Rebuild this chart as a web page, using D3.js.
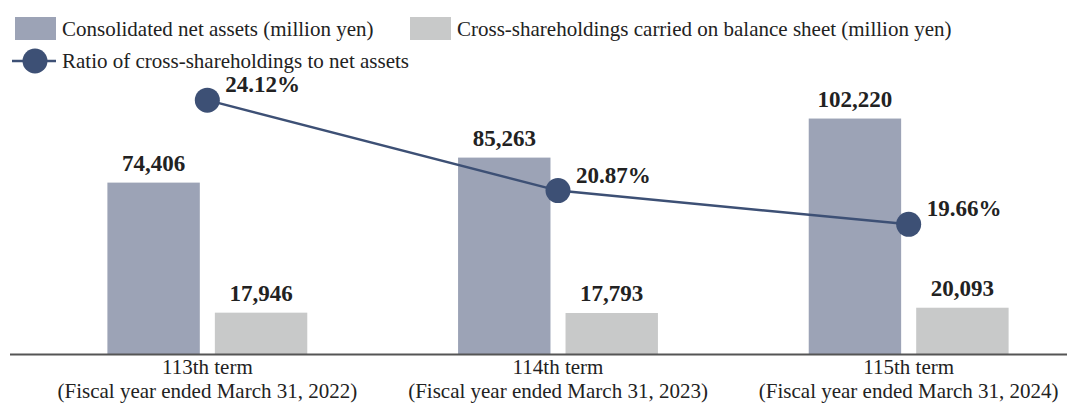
<!DOCTYPE html>
<html>
<head>
<meta charset="utf-8">
<script src="https://cdn.jsdelivr.net/npm/d3@7"></script>
<style>
  body { margin: 0; background: #fff; }
  text { font-family: 'Liberation Serif', 'Times New Roman', serif; fill: #222; }
</style>
</head>
<body>
<div id="graph"></div>
<script>
const w = 1067;
const h = 405;

// data
const terms = ['113th term', '114th term', '115th term'];
const periods = ['(Fiscal year ended March 31, 2022)',
                 '(Fiscal year ended March 31, 2023)',
                 '(Fiscal year ended March 31, 2024)'];
const netAssets = [74406, 85263, 102220];
const crossHoldings = [17946, 17793, 20093];
const ratio = [24.12, 20.87, 19.66];
const seriesNames = ['Consolidated net assets (million yen)',
                     'Cross-shareholdings carried on balance sheet (million yen)',
                     'Ratio of cross-shareholdings to net assets'];

const navyBar = '#9ca3b6';
const grayBar = '#c8c9c9';
const lineCol = '#3d5075';

const baseY = 354;
const topY = 20;

const svg = d3.select('#graph')
              .append('svg')
              .attr('width', w)
              .attr('height', h);

const x0 = d3.scaleBand()
             .domain(terms)
             .range([32, 1084])
             .paddingInner(0.43)
             .paddingOuter(0.215);

const x1 = d3.scaleBand()
             .domain(['net', 'cross'])
             .range([0, x0.bandwidth()])
             .paddingInner(0.14);

const yBar = d3.scaleLinear()
               .domain([0, 145000])
               .range([baseY, topY]);

const yRatio = d3.scaleLinear()
                 .domain([15, 27])
                 .range([baseY, topY]);

const fmt = d3.format(',');

const rows = terms.map((t, i) => ({
  term: t,
  bars: [{key: 'net', v: netAssets[i], c: navyBar},
         {key: 'cross', v: crossHoldings[i], c: grayBar}]
}));

const groups = svg.selectAll('g.grp')
                  .data(rows)
                  .enter()
                  .append('g')
                  .attr('class', 'grp')
                  .attr('transform', d => 'translate(' + x0(d.term) + ',0)');

groups.selectAll('rect')
      .data(d => d.bars)
      .enter()
      .append('rect')
      .attr('x', d => x1(d.key))
      .attr('y', d => yBar(d.v))
      .attr('width', x1.bandwidth())
      .attr('height', d => baseY - yBar(d.v))
      .attr('fill', d => d.c);

groups.selectAll('text.val')
      .data(d => d.bars)
      .enter()
      .append('text')
      .attr('class', 'val')
      .attr('x', d => x1(d.key) + x1.bandwidth() / 2)
      .attr('y', d => yBar(d.v) - 12)
      .attr('text-anchor', 'middle')
      .style('font-size', '23px')
      .style('font-weight', 'bold')
      .text(d => fmt(d.v));

// baseline
svg.append('line')
   .attr('x1', 10)
   .attr('x2', w)
   .attr('y1', baseY + 0.5)
   .attr('y2', baseY + 0.5)
   .attr('stroke', '#555')
   .attr('stroke-width', 2);

// category labels (two lines)
const xAxis = svg.append('g')
                 .attr('transform', 'translate(0,' + baseY + ')')
                 .call(d3.axisBottom(x0).tickSize(0).tickPadding(0));
xAxis.select('.domain').remove();
xAxis.selectAll('.tick text').remove();
xAxis.selectAll('.tick')
     .append('text')
     .attr('y', 20)
     .attr('text-anchor', 'middle')
     .style('font-size', '21px')
     .text(d => d);
xAxis.selectAll('.tick')
     .append('text')
     .attr('y', 44)
     .attr('text-anchor', 'middle')
     .style('font-size', '21px')
     .text((d, i) => periods[i]);

// ratio line
const pts = terms.map((t, i) => [x0(t) + x0.bandwidth() / 2, yRatio(ratio[i])]);

svg.append('path')
   .datum(pts)
   .attr('fill', 'none')
   .attr('stroke', lineCol)
   .attr('stroke-width', 2.5)
   .attr('d', d3.line());

svg.selectAll('circle.pt')
   .data(pts)
   .enter()
   .append('circle')
   .attr('class', 'pt')
   .attr('cx', d => d[0])
   .attr('cy', d => d[1])
   .attr('r', 12.5)
   .attr('fill', lineCol);

svg.selectAll('text.pct')
   .data(pts)
   .enter()
   .append('text')
   .attr('class', 'pct')
   .attr('x', d => d[0] + 18)
   .attr('y', d => d[1] - 8)
   .style('font-size', '23px')
   .style('font-weight', 'bold')
   .text((d, i) => ratio[i].toFixed(2) + '%');

// legend
svg.append('rect')
   .attr('x', 15).attr('y', 17)
   .attr('width', 41).attr('height', 23)
   .attr('fill', navyBar);
svg.append('text')
   .attr('x', 62).attr('y', 36)
   .style('font-size', '21px')
   .text(seriesNames[0]);

svg.append('rect')
   .attr('x', 410).attr('y', 17)
   .attr('width', 41).attr('height', 23)
   .attr('fill', grayBar);
svg.append('text')
   .attr('x', 457).attr('y', 36)
   .style('font-size', '21px')
   .text(seriesNames[1]);

svg.append('line')
   .attr('x1', 12).attr('x2', 56)
   .attr('y1', 61).attr('y2', 61)
   .attr('stroke', lineCol)
   .attr('stroke-width', 2.5);
svg.append('circle')
   .attr('cx', 35).attr('cy', 61)
   .attr('r', 12.5)
   .attr('fill', lineCol);
svg.append('text')
   .attr('x', 62).attr('y', 68)
   .style('font-size', '21px')
   .text(seriesNames[2]);
</script>
</body>
</html>
